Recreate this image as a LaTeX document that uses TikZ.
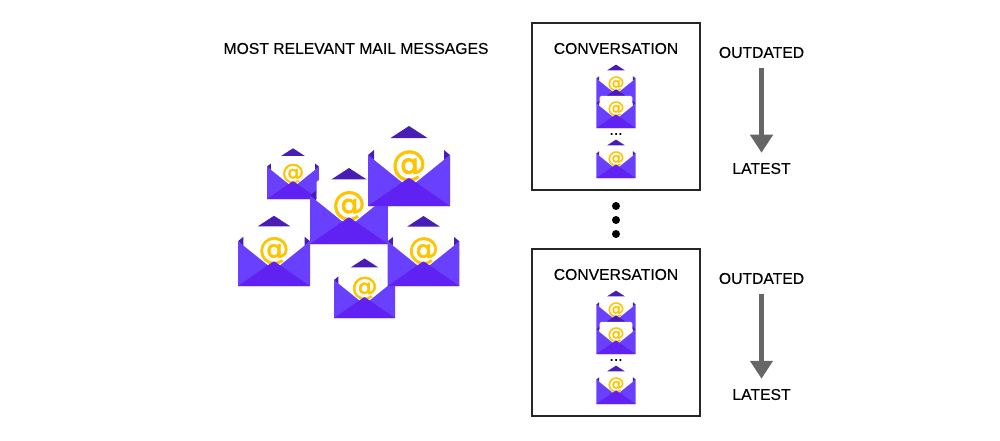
\documentclass[tikz,border=0pt]{standalone}
\usepackage{fontspec}
\setmainfont[FakeBold=0.25]{Liberation Sans}
\newfontfamily\signfont[FakeBold=2]{DejaVu Sans}
\usetikzlibrary{arrows.meta}
\definecolor{mailside}{HTML}{6A40FF}
\definecolor{mailflap}{HTML}{5F22F2}
\definecolor{maildark}{HTML}{481DB4}
\definecolor{mailsign}{HTML}{FFC400}
\definecolor{arrowgrey}{HTML}{666666}
\tikzset{
  caption/.style={font=\fontsize{15.7}{18}\selectfont, inner sep=0pt},
  panelbox/.style={draw=black!85, line width=1.5pt, minimum width=168pt, minimum height=167pt, inner sep=0pt},
  timearrow/.style={draw=arrowgrey, line width=5pt, -{Triangle[length=18pt,width=22pt]}, shorten <=10pt, shorten >=10pt},
  bigdot/.style={circle, fill=black, minimum size=8pt, inner sep=0pt},
  mailicon/.pic={
    % letter first, so that the envelope hides its lower part
    \fill[white, rounded corners=1.5pt] (-34,-18) rectangle (34,-67);
    \node[transform shape, text=mailsign, inner sep=0pt, font=\signfont\fontsize{35}{35}\selectfont] (-sign) at (0,-40) {@};
    \fill[maildark] (-41,-51) -- (-35,-56) -- (-35,-46) -- cycle;
    \fill[maildark] (41,-51) -- (35,-56) -- (35,-46) -- cycle;
    \fill[mailside] (-41,0) -- (-41,-51) -- (0,-18) -- (41,-51) -- (41,0) -- cycle;
    \fill[mailflap] (-41,0) -- (-2,-27) -- (0,-28) -- (2,-27) -- (41,0) -- cycle;
    \fill[maildark] (-18.5,-68) -- (0,-80) -- (18.5,-68) -- cycle;
  }
}
\begin{document}
\begin{tikzpicture}[x=1pt,y=-1pt]
\useasboundingbox (0,0) rectangle (1000,440);

\node[caption] (heading) at (356,48.5) {MOST RELEVANT MAIL MESSAGES};

% scattered messages
\pic[scale=.634] (small) at (293,199) {mailicon};
\pic[scale=.95] (centre) at (349,244) {mailicon};
\pic (big) at (409,206) {mailicon};
\pic[scale=.744] (lower) at (364.5,318) {mailicon};
\pic[scale=.878] (left) at (274,286) {mailicon};
\pic[scale=.875] (right) at (423.5,286) {mailicon};

% the two conversation panels
\foreach \i/\dy in {1/0,2/226} {
  \node[panelbox] (box\i) at (616,106.5+\dy) {};
  \node[caption] (conv\i) at (616,48.5+\dy) {CONVERSATION};
  \pic[scale=.48] (first\i) at (616,103+\dy) {mailicon};
  \pic[scale=.48] (second\i) at (616,128+\dy) {mailicon};
  \node[caption] (more\i) at (616,134+\dy) {...};
  \pic[scale=.48] (third\i) at (616,178+\dy) {mailicon};
  \node[caption] (old\i) at (761.5,52.5+\dy) {OUTDATED};
  \node[caption] (new\i) at (761.5,168.5+\dy) {LATEST};
  \draw[timearrow] (old\i) -- (new\i);
}

\foreach \i/\y in {1/206,2/220,3/234}
  \node[bigdot] (gap\i) at (616,\y) {};

\end{tikzpicture}
\end{document}
